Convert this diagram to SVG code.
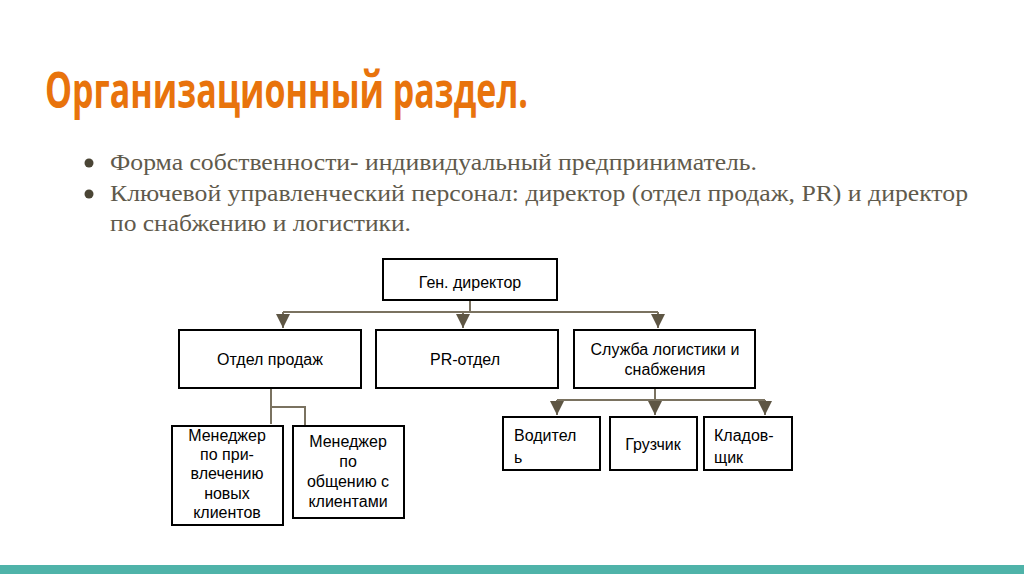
<svg xmlns="http://www.w3.org/2000/svg" width="1024" height="574" viewBox="0 0 1024 574">
<defs>
<style>
.title{font-family:"Open Sans","Liberation Sans",sans-serif;font-weight:bold;font-size:50px;fill:#E8730C}
.bul{font-family:"Liberation Serif",serif;font-size:24px;fill:#5f5a4c}
.box{fill:#fff;stroke:#000;stroke-width:2}
.lbl{font-family:"Liberation Sans",Arial,sans-serif;font-size:16px;fill:#000;text-anchor:middle}
.lbll{font-family:"Liberation Sans",Arial,sans-serif;font-size:16px;fill:#000}
.con{fill:none;stroke:#7a7260;stroke-width:2}
</style>
<marker id="arr" markerWidth="14" markerHeight="14" refX="14" refY="7" orient="auto" markerUnits="userSpaceOnUse" viewBox="0 0 14 14">
<path d="M0,0 L14,7 L0,14 Z" fill="#5e5644"/>
</marker>
</defs>
<rect width="1024" height="574" fill="#fff"/>
<rect x="0" y="565" width="1024" height="9" fill="#4fb3a9"/>
<text class="title" x="45" y="108" textLength="483" lengthAdjust="spacingAndGlyphs">Организационный раздел.</text>
<g id="bullets">
<circle cx="89" cy="163" r="4.5" fill="#4a4535"/>
<circle cx="89" cy="194" r="4.5" fill="#4a4535"/>
<text class="bul" x="110" y="170" textLength="647" lengthAdjust="spacingAndGlyphs">Форма собственности- индивидуальный предприниматель.</text>
<text class="bul" x="110" y="201" textLength="858" lengthAdjust="spacingAndGlyphs">Ключевой управленческий персонал: директор (отдел продаж, PR) и директор</text>
<text class="bul" x="110" y="231" textLength="301" lengthAdjust="spacingAndGlyphs">по снабжению и логистики.</text>
</g>
<g id="connectors">
<path class="con" d="M470,300 V312"/>
<path class="con" d="M283,312 H658"/>
<path class="con" d="M283,312 V328" marker-end="url(#arr)"/>
<path class="con" d="M463,312 V328" marker-end="url(#arr)"/>
<path class="con" d="M658,312 V328" marker-end="url(#arr)"/>
<path class="con" d="M271,388 V424"/>
<path class="con" d="M271,407 H305 V425"/>
<path class="con" d="M655,388 V400"/>
<path class="con" d="M557,400 H765"/>
<path class="con" d="M557,400 V415" marker-end="url(#arr)"/>
<path class="con" d="M655,400 V415" marker-end="url(#arr)"/>
<path class="con" d="M765,400 V415" marker-end="url(#arr)"/>
</g>
<g id="gen"><rect class="box" x="383" y="259" width="174" height="41"/><text class="lbl" x="470" y="288">Ген. директор</text></g>
<g id="sales"><rect class="box" x="179" y="330" width="182" height="58"/><text class="lbl" x="270" y="365">Отдел продаж</text></g>
<g id="pr"><rect class="box" x="376" y="330" width="182" height="58"/><text class="lbl" x="465" y="365">PR-отдел</text></g>
<g id="log"><rect class="box" x="574" y="330" width="181" height="58"/><text class="lbl" x="665" y="355">Служба логистики и</text><text class="lbl" x="665" y="375">снабжения</text></g>
<g id="m1"><rect class="box" x="172" y="426" width="111" height="99"/>
<text class="lbl" x="227" y="441">Менеджер</text><text class="lbl" x="227" y="460">по при-</text><text class="lbl" x="227" y="479">влечению</text><text class="lbl" x="227" y="499">новых</text><text class="lbl" x="227" y="518">клиентов</text></g>
<g id="m2"><rect class="box" x="293" y="426" width="111" height="92"/>
<text class="lbl" x="348" y="447">Менеджер</text><text class="lbl" x="348" y="467">по</text><text class="lbl" x="348" y="487">общению с</text><text class="lbl" x="348" y="507">клиентами</text></g>
<g id="drv"><rect class="box" x="503" y="417" width="97" height="53"/><text class="lbll" x="514" y="441">Водител</text><text class="lbll" x="514" y="463">ь</text></g>
<g id="load"><rect class="box" x="610" y="417" width="87" height="53"/><text class="lbl" x="653" y="450">Грузчик</text></g>
<g id="store"><rect class="box" x="704" y="417" width="88" height="53"/><text class="lbll" x="714" y="441">Кладов-</text><text class="lbll" x="714" y="463">щик</text></g>
</svg>
